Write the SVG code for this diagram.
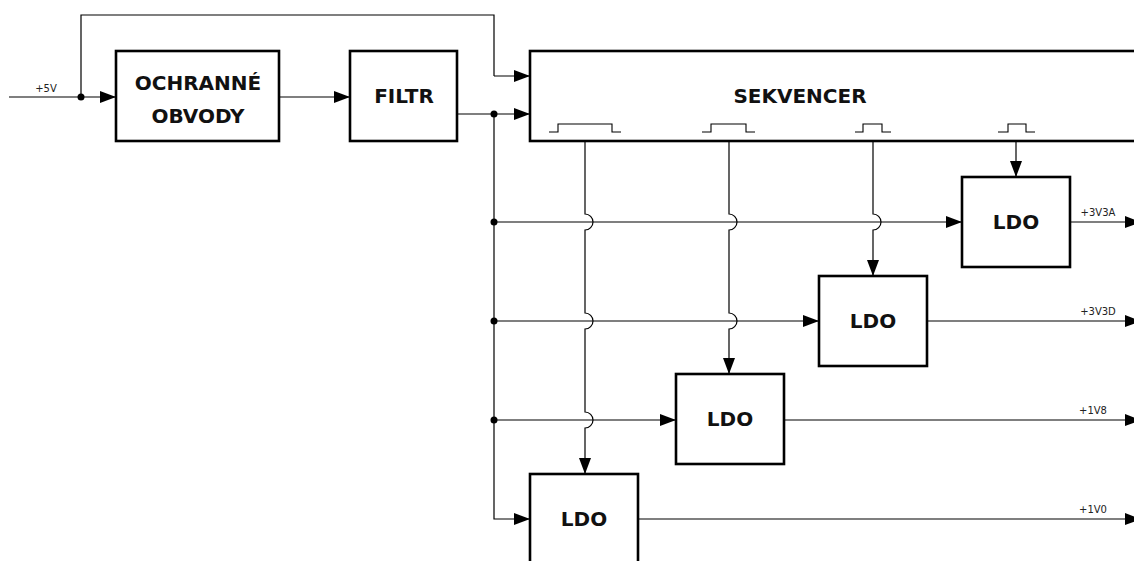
<svg xmlns="http://www.w3.org/2000/svg" width="1134" height="561" viewBox="0 0 1134 561">
<defs>
<marker id="arr" markerUnits="userSpaceOnUse" markerWidth="16" markerHeight="12" viewBox="0 0 16 12" refX="16" refY="6" orient="auto">
<path d="M0,0 L16,6 L0,12 Z" fill="#000"/>
</marker>
</defs>
<style>
.box{fill:#fff;stroke:#000;stroke-width:2.6}
.w{fill:none;stroke:#000;stroke-width:1.2}
.p{fill:none;stroke:#000;stroke-width:1.1}
.t{font-family:"DejaVu Sans",sans-serif;font-weight:bold;font-size:20px;text-anchor:middle;fill:#111}
.s{font-family:"DejaVu Sans",sans-serif;font-size:10px;text-anchor:middle;fill:#222}
.a{marker-end:url(#arr)}
</style>
<rect width="1134" height="561" fill="#fff"/>
<g id="connectors">
<path class="w a" d="M9,97 H116"/>
<path class="w" d="M81,97 V15 H494 V76"/>
<path class="w a" d="M494,76 H530"/>
<path class="w a" d="M279,97 H350"/>
<path class="w a" d="M457,114 H530"/>
<path class="w a" d="M494,114 V519 H530"/>
<path class="w a" d="M494,222 H962"/>
<path class="w a" d="M494,321 H819"/>
<path class="w a" d="M494,420 H676"/>
<path class="w a" d="M1016,141 V177"/>
<path class="w a" d="M873,141 V214 A8,8 0 0 1 873,230 V276"/>
<path class="w a" d="M729,141 V214 A8,8 0 0 1 729,230 V313 A8,8 0 0 1 729,329 V374"/>
<path class="w a" d="M585,141 V214 A8,8 0 0 1 585,230 V313 A8,8 0 0 1 585,329 V412 A8,8 0 0 1 585,428 V474"/>
<path class="w a" d="M1070,222 H1141"/>
<path class="w a" d="M927,321 H1141"/>
<path class="w a" d="M784,420 H1141"/>
<path class="w a" d="M638,519 H1141"/>
<circle cx="81" cy="97" r="3.5"/>
<circle cx="494" cy="114" r="3.5"/>
<circle cx="494" cy="222" r="3.5"/>
<circle cx="494" cy="321" r="3.5"/>
<circle cx="494" cy="420" r="3.5"/>
<text class="s" x="46" y="92">+5V</text>
<text class="s" x="1098" y="216">+3V3A</text>
<text class="s" x="1098" y="315">+3V3D</text>
<text class="s" x="1093" y="414">+1V8</text>
<text class="s" x="1093" y="513">+1V0</text>
</g>
<g id="ochranne">
<rect class="box" x="116" y="51" width="163" height="90"/>
<text class="t" x="198" y="90">OCHRANNÉ</text>
<text class="t" x="198" y="123">OBVODY</text>
</g>
<g id="filtr">
<rect class="box" x="350" y="51" width="107" height="90"/>
<text class="t" x="404" y="103">FILTR</text>
</g>
<g id="sekvencer">
<rect class="box" x="530" y="51" width="606" height="90"/>
<text class="t" x="800" y="103">SEKVENCER</text>
<path class="p" d="M549,132 H558 V124 H612 V132 H621"/>
<path class="p" d="M702,132 H711 V124 H746 V132 H755"/>
<path class="p" d="M855,132 H863 V124 H882 V132 H891"/>
<path class="p" d="M998,132 H1008 V124 H1026 V132 H1035"/>
</g>
<g id="ldo1">
<rect class="box" x="962" y="177" width="108" height="90"/>
<text class="t" x="1016" y="229">LDO</text>
</g>
<g id="ldo2">
<rect class="box" x="819" y="276" width="108" height="90"/>
<text class="t" x="873" y="328">LDO</text>
</g>
<g id="ldo3">
<rect class="box" x="676" y="374" width="108" height="90"/>
<text class="t" x="730" y="426">LDO</text>
</g>
<g id="ldo4">
<rect class="box" x="530" y="474" width="108" height="90"/>
<text class="t" x="584" y="526">LDO</text>
</g>
</svg>
